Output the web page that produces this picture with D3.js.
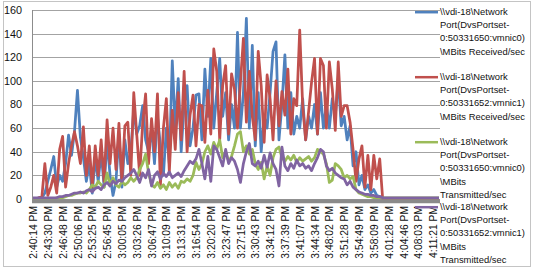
<!DOCTYPE html>
<html><head><meta charset="utf-8">
<script src="https://cdn.jsdelivr.net/npm/d3@7"></script>
<style>body{margin:0;background:#fff}svg{display:block}text{font-family:"Liberation Sans",Arial,sans-serif}</style>
</head><body><svg id="c" width="536" height="271"></svg>
<script>
const tickLabels = ["2:40:14 PM","2:43:30 PM","2:46:48 PM","2:50:06 PM","2:53:25 PM","2:56:45 PM","3:00:05 PM","3:03:26 PM","3:06:47 PM","3:10:09 PM","3:13:31 PM","3:16:54 PM","3:20:20 PM","3:23:47 PM","3:27:15 PM","3:30:43 PM","3:34:12 PM","3:37:39 PM","3:41:07 PM","3:44:34 PM","3:48:02 PM","3:51:28 PM","3:54:49 PM","3:58:09 PM","4:01:28 PM","4:04:46 PM","4:08:03 PM","4:11:21 PM"];
const samplesPerLabel = 5;
const yTicks = [0,20,40,60,80,100,120,140,160];
const seriesNames = [
  "\\\\vdi-18\\Network Port(DvsPortset-0:50331650:vmnic0)\\MBits Received/sec",
  "\\\\vdi-18\\Network Port(DvsPortset-0:50331652:vmnic1)\\MBits Received/sec",
  "\\\\vdi-18\\Network Port(DvsPortset-0:50331650:vmnic0)\\MBits Transmitted/sec",
  "\\\\vdi-18\\Network Port(DvsPortset-0:50331652:vmnic1)\\MBits Transmitted/sec"];
const legendLines = [
  ["\\\\vdi-18\\Network","Port(DvsPortset-","0:50331650:vmnic0)","\\MBits Received/sec"],
  ["\\\\vdi-18\\Network","Port(DvsPortset-","0:50331652:vmnic1)","\\MBits Received/sec"],
  ["\\\\vdi-18\\Network","Port(DvsPortset-","0:50331650:vmnic0)","\\MBits","Transmitted/sec"],
  ["\\\\vdi-18\\Network","Port(DvsPortset-","0:50331652:vmnic1)","\\MBits","Transmitted/sec"]];
const seriesColors = ["#4F81BD","#C0504D","#9BBB59","#8064A2"];

const vmnic0Received = [0,0,1,1,5,15,25,36,10,20, 15,30,54,37,57,92,52,35,15,30, 5,35,15,40,10,50,20,3,15,55,
 10,50,30,40,76,55,62,79,50,40, 60,30,70,45,20,60,30,117,60,102, 40,80,96,45,60,88,89,50,110,70,
 119,60,90,119,70,90,50,80,60,141, 60,90,153,60,130,45,90,40,70,60, 90,125,133,50,80,122,60,90,55,70,
 60,85,50,70,60,80,55,90,60,80, 60,85,70,102,62,70,50,62,28,40, 12,20,8,12,5,8,3,2,1,0,
 0,0,0,0,0,0,0,0,0,0, 0,0,0,0,0,0,0,0];
const vmnic1Received = [0,0,1,2,30,3,10,20,5,42, 53,10,30,45,57,45,30,61,20,45, 10,45,20,50,15,67,30,60,25,64,
 15,62,65,20,90,55,20,64,89,30, 68,40,89,12,60,85,23,75,42,90, 50,108,40,71,88,45,80,79,48,92,
 55,127,108,50,96,113,55,106,93,60, 99,136,65,108,70,50,125,96,48,105, 85,50,100,62,91,71,110,55,85,79,
 143,79,50,74,99,119,55,119,113,60, 116,93,58,116,70,79,79,65,42,15, 34,45,10,37,8,37,17,34,0,0,
 0,0,0,0,0,0,0,0,0,0, 0,0,0,0,0,0,0,0];
const vmnic0Transmitted = [0,0,0,0,0,0,0,0,1,1, 1,2,3,3,4,5,5,6,5,8, 12,10,15,12,10,22,12,18,12,10,
 15,12,14,18,15,18,25,30,38,22, 12,10,14,9,12,8,14,10,13,9, 15,14,17,15,20,31,25,30,40,45,
 38,48,42,50,35,40,32,36,45,55, 57,40,45,38,42,30,25,31,17,28, 20,35,42,44,35,32,36,33,37,31,
 35,32,34,36,32,35,42,40,38,30, 14,16,30,28,25,18,20,17,19,8, 5,4,3,2,2,1,1,1,1,1,
 1,1,1,1,1,1,1,1,1,1, 1,1,1,1,1,1,1,1];
const vmnic1Transmitted = [1,1,1,1,1,1,1,1,1,2, 2,3,3,4,5,5,6,5,7,8, 6,9,10,8,12,14,11,15,13,16,
 15,18,20,22,25,20,14,22,18,25, 11,20,23,17,22,19,23,18,20,22, 19,24,28,32,30,34,42,30,17,36,
 15,45,42,35,28,42,30,35,32,25, 14,30,40,47,30,28,32,26,37,27, 39,30,25,11,44,28,24,30,26,33,
 28,30,26,28,24,30,35,42,40,28, 24,26,22,20,18,17,12,15,10,8, 6,5,4,4,3,3,2,2,1,1,
 1,1,1,1,1,1,1,1,1,1, 1,1,1,1,1,1,1,1];
const series = [vmnic0Received, vmnic1Received, vmnic0Transmitted, vmnic1Transmitted];

const svg = d3.select("#c");
const n = vmnic0Received.length;
const x = d3.scaleLinear().domain([0, n - 1]).range([33, 439]);
const y = d3.scaleLinear().domain([0, 160]).range([199, 10]);

// chart border
svg.append("rect").attr("x",3.5).attr("y",1.5).attr("width",527).attr("height",265)
  .attr("fill","none").attr("stroke","#c4c4c4");

// gridlines
svg.append("g").selectAll("line").data(yTicks).join("line")
  .attr("x1",32).attr("x2",440).attr("y1",d=>Math.round(y(d))+0.5).attr("y2",d=>Math.round(y(d))+0.5)
  .attr("stroke","#a3a3a3").attr("stroke-width",1);

// y axis
const ya = svg.append("g").attr("transform","translate(32,0)")
  .call(d3.axisLeft(y).tickValues(yTicks).tickSize(0).tickPadding(10));
ya.select(".domain").remove();
ya.selectAll("text").attr("font-size","10.8px").attr("fill","#111").attr("font-family","Liberation Sans, Arial, sans-serif");
svg.append("line").attr("x1",32.5).attr("x2",32.5).attr("y1",10).attr("y2",201).attr("stroke","#8c8c8c");

// x axis
const xa = svg.append("g").attr("transform",`translate(0,${y(0)})`)
  .call(d3.axisBottom(x).tickValues(d3.range(0, tickLabels.length * samplesPerLabel, samplesPerLabel))
    .tickFormat(i => tickLabels[i / samplesPerLabel]).tickSize(0));
xa.select(".domain").remove();
xa.selectAll("text").attr("transform","rotate(-90)").attr("x",-7).attr("y",0).attr("dy","0.35em")
  .style("text-anchor","end").attr("font-size","10.3px").attr("fill","#111")
  .attr("font-family","Liberation Sans, Arial, sans-serif");

// series
const line = d3.line().x((d,i)=>x(i)).y(d=>y(d));
svg.append("g").selectAll("path").data(series).join("path")
  .attr("d", line).attr("fill","none").attr("stroke",(d,i)=>seriesColors[i])
  .attr("stroke-width",2.75).attr("stroke-linejoin","round");

// thick gray axis band
svg.append("line").attr("x1",32).attr("x2",440).attr("y1",y(0)+2.2).attr("y2",y(0)+2.2)
  .attr("stroke","#8a8a8a").attr("stroke-width",4);

// legend
const lg = svg.append("g");
seriesNames.forEach((name, k) => {
  const y0 = 11.7 + 65 * k;
  const g = lg.append("g").attr("data-name", name);
  g.append("line").attr("x1",415).attr("x2",438).attr("y1",y0+0.5).attr("y2",y0+0.5)
    .attr("stroke",seriesColors[k]).attr("stroke-width",2.5);
  g.selectAll("text").data(legendLines[k]).join("text")
    .attr("x",440).attr("y",(d,j)=>y0 + j*13.2).attr("dy","0.35em")
    .attr("font-size","9.4px").attr("fill","#111").text(d=>d);
});
</script></body></html>
